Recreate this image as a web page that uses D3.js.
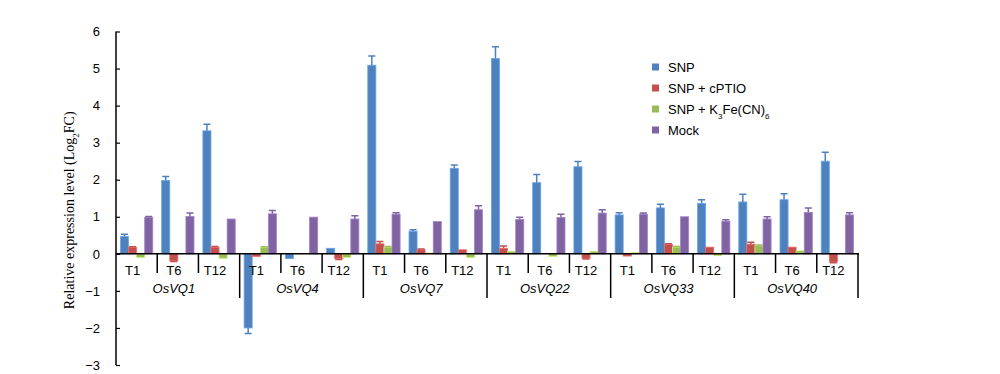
<!DOCTYPE html>
<html lang="en">
<head>
<meta charset="UTF-8">
<title>OsVQ expression</title>
<script src="https://d3js.org/d3.v7.min.js"></script>
<style>
  body { margin: 0; background: #fff; }
  text { font-family: "Liberation Sans", Arial, sans-serif; fill: #000; }
  .ytitle { font-family: "Liberation Serif", "Times New Roman", serif; font-size: 14px; }
</style>
</head>
<body>
<svg width="1000" height="374"></svg>
<script>
const genes = ["OsVQ1", "OsVQ4", "OsVQ7", "OsVQ22", "OsVQ33", "OsVQ40"];
const times = ["T1", "T6", "T12"];
const seriesNames = ["SNP", "SNP + cPTIO", "SNP + K3Fe(CN)6", "Mock"];
const colors = ["#4F81BD", "#C0504D", "#9BBB59", "#8064A2"];

const snp      = [0.47, 1.98, 3.32, -2.00, -0.13, 0.15, 5.09, 0.61, 2.31, 5.27, 1.92, 2.35, 1.05, 1.24, 1.36, 1.40, 1.46, 2.50];
const snpErr   = [0.06, 0.11, 0.18, 0.15, 0.00, 0.01, 0.25, 0.04, 0.09, 0.32, 0.22, 0.14, 0.06, 0.10, 0.10, 0.21, 0.16, 0.24];
const cptio    = [0.17, -0.19, 0.17, -0.07, 0.00, -0.13, 0.27, 0.11, 0.11, 0.15, 0.00, -0.12, -0.06, 0.25, 0.18, 0.26, 0.18, -0.22];
const cptioErr = [0.02, 0.02, 0.03, 0.01, 0.00, 0.02, 0.06, 0.02, 0.01, 0.06, 0.00, 0.02, 0.01, 0.02, 0.01, 0.05, 0.01, 0.02];
const kfe      = [-0.10, 0.00, -0.12, 0.17, 0.01, -0.10, 0.18, 0.02, -0.10, 0.07, -0.07, 0.07, 0.03, 0.18, -0.05, 0.22, 0.08, 0.01];
const kfeErr   = [0.01, 0.00, 0.01, 0.02, 0.00, 0.01, 0.02, 0.00, 0.01, 0.01, 0.01, 0.01, 0.00, 0.02, 0.01, 0.02, 0.01, 0.00];
const mock     = [0.98, 1.01, 0.94, 1.08, 0.99, 0.94, 1.07, 0.87, 1.19, 0.93, 0.98, 1.10, 1.07, 1.00, 0.88, 0.94, 1.12, 1.05];
const mockErr  = [0.03, 0.09, 0.01, 0.09, 0.01, 0.09, 0.04, 0.01, 0.11, 0.06, 0.09, 0.09, 0.03, 0.01, 0.04, 0.06, 0.12, 0.06];

const seriesVals = [snp, cptio, kfe, mock];
const seriesErrs = [snpErr, cptioErr, kfeErr, mockErr];
const yTicks = [-3, -2, -1, 0, 1, 2, 3, 4, 5, 6];

const svg = d3.select("svg");
const x0 = 116, x1 = 858;

// one cluster per gene/time pair
const clusters = [];
genes.forEach(g => times.forEach(t => clusters.push(g + "|" + t)));

const x = d3.scaleBand().domain(clusters).range([x0, x1]);
const xs = d3.scaleBand().domain(d3.range(4)).range([0, x.bandwidth()]).paddingInner(0).paddingOuter(0.55);
const y = d3.scaleLinear().domain([-3, 6]).range([365, 31.5]);

// y axis
const yAxis = svg.append("g").attr("transform", `translate(${x0},0)`)
  .call(d3.axisRight(y).tickValues(yTicks).tickSize(4).tickFormat(d3.format("d")));
yAxis.select(".domain").attr("stroke", "#000").attr("stroke-width", 1.5).attr("d", `M0,${y(-3)}V${y(6)}`);
yAxis.selectAll(".tick line").attr("stroke", "#000").attr("stroke-width", 1.2);
yAxis.selectAll(".tick text").attr("x", -16).attr("text-anchor", "end")
  .style("font-size", "13px").style("font-family", "'Liberation Sans', Arial, sans-serif");

// bars
seriesVals.forEach((vals, s) => {
  const g = svg.append("g");
  const c = colors[s];
  const errs = seriesErrs[s];
  const pts = vals.map((v, i) => ({ v, e: errs[i], i }));
  const bx = d => x(clusters[d.i]) + xs(s);
  g.selectAll("rect").data(pts).join("rect")
    .attr("x", bx)
    .attr("width", xs.bandwidth())
    .attr("y", d => y(Math.max(0, d.v)))
    .attr("height", d => Math.abs(y(d.v) - y(0)))
    .attr("fill", c)
    .attr("stroke", d3.color(c).brighter(0.7))
    .attr("stroke-width", 0.8);
  // error bars (one direction, away from zero)
  g.selectAll("path").data(pts.filter(d => d.e > 0.015)).join("path")
    .attr("d", d => {
      const cx = bx(d) + xs.bandwidth() / 2;
      const end = d.v >= 0 ? d.v + d.e : d.v - d.e;
      const hw = xs.bandwidth() / 2 - 0.5;
      return `M${cx},${y(d.v)}V${y(end)}M${cx - hw},${y(end)}H${cx + hw}`;
    })
    .attr("stroke", c).attr("stroke-width", 1.5).attr("fill", "none");
});

// x axis line
svg.append("line").attr("x1", x0).attr("x2", x1 + 1).attr("y1", y(0)).attr("y2", y(0))
  .attr("stroke", "#000").attr("stroke-width", 1.5);

// separators
clusters.forEach((c, i) => {
  if (i === 0) return;
  const long = i % 3 === 0;
  svg.append("line").attr("x1", x(c)).attr("x2", x(c))
    .attr("y1", y(0)).attr("y2", long ? 298 : 273)
    .attr("stroke", "#000").attr("stroke-width", 1.5);
});
svg.append("line").attr("x1", x1).attr("x2", x1).attr("y1", y(0)).attr("y2", 298)
  .attr("stroke", "#000").attr("stroke-width", 1.5);

// time labels
svg.append("g").selectAll("text").data(clusters).join("text")
  .attr("x", c => x(c) + x.bandwidth() / 2 - 4)
  .attr("y", 275)
  .attr("text-anchor", "middle")
  .style("font-size", "13px")
  .text(c => c.split("|")[1]);

// gene labels
svg.append("g").selectAll("text").data(genes).join("text")
  .attr("x", g => x(g + "|T6") + x.bandwidth() / 2 - 4)
  .attr("y", 293)
  .attr("text-anchor", "middle")
  .style("font-size", "13px")
  .style("font-style", "italic")
  .text(g => g);

// y title
const yt = svg.append("text").attr("class", "ytitle")
  .attr("transform", `translate(74,${(y(6) + y(-3)) / 2 + 12}) rotate(-90)`)
  .attr("text-anchor", "middle");
yt.append("tspan").text("Relative expression level (Log");
yt.append("tspan").attr("baseline-shift", "sub").style("font-size", "9px").text("2");
yt.append("tspan").text("FC)");

// legend
const leg = svg.append("g").attr("transform", "translate(652,67)");
seriesNames.forEach((n, i) => {
  const row = leg.append("g").attr("transform", `translate(0,${i * 21})`);
  row.append("rect").attr("x", 0).attr("y", -3.5).attr("width", 7).attr("height", 7).attr("fill", colors[i]);
  const t = row.append("text").attr("x", 16).attr("y", 4.5).style("font-size", "13px");
  if (i === 2) {
    t.append("tspan").text("SNP + K");
    t.append("tspan").attr("baseline-shift", "sub").style("font-size", "8px").text("3");
    t.append("tspan").text("Fe(CN)");
    t.append("tspan").attr("baseline-shift", "sub").style("font-size", "8px").text("6");
  } else {
    t.text(n);
  }
});
</script>
</body>
</html>
